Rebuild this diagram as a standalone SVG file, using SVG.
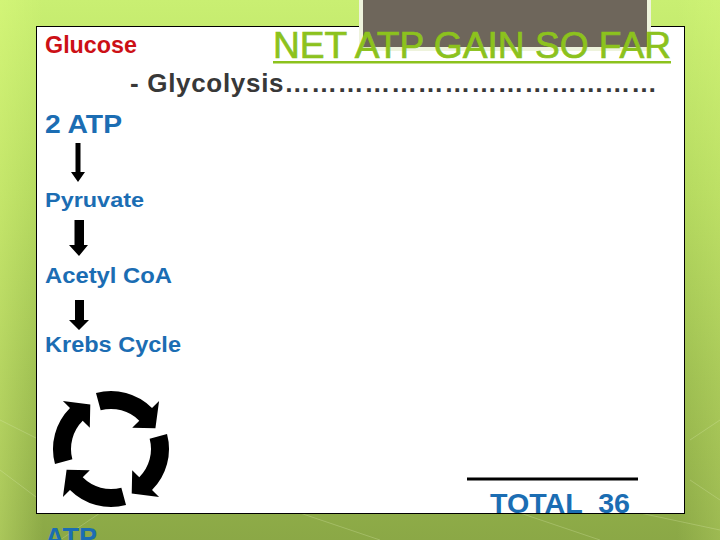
<svg xmlns="http://www.w3.org/2000/svg" width="720" height="540" viewBox="0 0 720 540">
<defs>
<linearGradient id="bg" x1="0" y1="0" x2="0" y2="1">
<stop offset="0" stop-color="#c9ef72"/>
<stop offset="0.35" stop-color="#b4d95f"/>
<stop offset="0.7" stop-color="#9cbd50"/>
<stop offset="1" stop-color="#8ba846"/>
</linearGradient>
<linearGradient id="side" x1="0" y1="0" x2="1" y2="0">
<stop offset="0" stop-color="#e4ff80" stop-opacity="0.35"/>
<stop offset="0.06" stop-color="#e4ff80" stop-opacity="0"/>
<stop offset="0.94" stop-color="#e4ff80" stop-opacity="0"/>
<stop offset="1" stop-color="#e4ff80" stop-opacity="0.2"/>
</linearGradient>
<path id="cyc" d="M -15.01,-56.02 A 58 58 0 0 1 41.01,-41.01 L 48.08,-48.08 L 44.41,-20.71 L 21.21,-21.21 L 28.28,-28.28 A 40 40 0 0 0 -10.35,-38.64 Z"/>
</defs>
<style>
.blue{font-family:"Liberation Sans",Arial,sans-serif;font-weight:bold;fill:#1b6db3}
.arr{fill:#000}
</style>
<rect x="0" y="0" width="720" height="540" fill="url(#bg)"/>
<rect x="0" y="0" width="720" height="540" fill="url(#side)"/>
<g stroke="#e8f5c0" stroke-opacity="0.25" stroke-width="1" fill="none">
<path d="M0,420 L40,440 M0,470 L40,500 M690,440 L720,420 M690,480 L720,500 M100,513 L60,540 M300,513 L380,540 M520,513 L600,540 M640,513 L720,530"/>
</g>
<rect x="36.5" y="26.5" width="648" height="487" fill="#ffffff" stroke="#000000" stroke-width="1"/>
<rect x="361" y="-4" width="288" height="53" fill="#6e665b" stroke="#eef3dc" stroke-width="4"/>
<g id="title">
<text x="273" y="58" font-family="Liberation Sans,Arial,sans-serif" font-size="36" fill="#8cc21d" stroke="#8cc21d" stroke-width="0.7" textLength="398" lengthAdjust="spacingAndGlyphs">NET ATP GAIN SO FAR</text>
<rect x="273" y="61" width="398" height="2.5" fill="#8cc21d"/>
</g>
<g id="glucose">
<text x="45" y="53" font-family="Liberation Sans,Arial,sans-serif" font-weight="bold" font-size="23" fill="#cc1016" textLength="92" lengthAdjust="spacingAndGlyphs">Glucose</text>
</g>
<g id="glycolysis">
<text x="130" y="92" font-family="Liberation Sans,Arial,sans-serif" font-weight="bold" font-size="26" fill="#383838" textLength="527" lengthAdjust="spacing">- Glycolysis……………………………………</text>
</g>
<g id="atp2"><text class="blue" x="45" y="133" font-size="26" textLength="77" lengthAdjust="spacingAndGlyphs">2 ATP</text></g>
<g id="pyruvate"><text class="blue" x="45" y="207" font-size="21" textLength="99" lengthAdjust="spacingAndGlyphs">Pyruvate</text></g>
<g id="acetyl"><text class="blue" x="45" y="283" font-size="22" textLength="127" lengthAdjust="spacingAndGlyphs">Acetyl CoA</text></g>
<g id="krebs"><text class="blue" x="45" y="352" font-size="22" textLength="136" lengthAdjust="spacingAndGlyphs">Krebs Cycle</text></g>
<g id="connectors">
<polygon class="arr" points="75.5,143 80.5,143 80.5,172 85,172 78,182 71,172 75.5,172"/>
<polygon class="arr" points="74.5,220 84,220 84,245 88,245 79,256 69,245 74.5,245"/>
<polygon class="arr" points="75,300 84,300 84,320 89,320 79,330 69,320 75,320"/>
</g>
<g id="cycle" transform="translate(111,449)" fill="#000">
<use href="#cyc"/>
<use href="#cyc" transform="rotate(90)"/>
<use href="#cyc" transform="rotate(180)"/>
<use href="#cyc" transform="rotate(270)"/>
</g>
<g id="total">
<rect x="467" y="477.5" width="171" height="3" fill="#000"/>
<text class="blue" x="490" y="513" font-size="28" textLength="140" lengthAdjust="spacingAndGlyphs" xml:space="preserve">TOTAL  36</text>
</g>
<g id="atp-bottom"><text class="blue" x="45" y="547" font-size="27">ATP</text></g>
</svg>
